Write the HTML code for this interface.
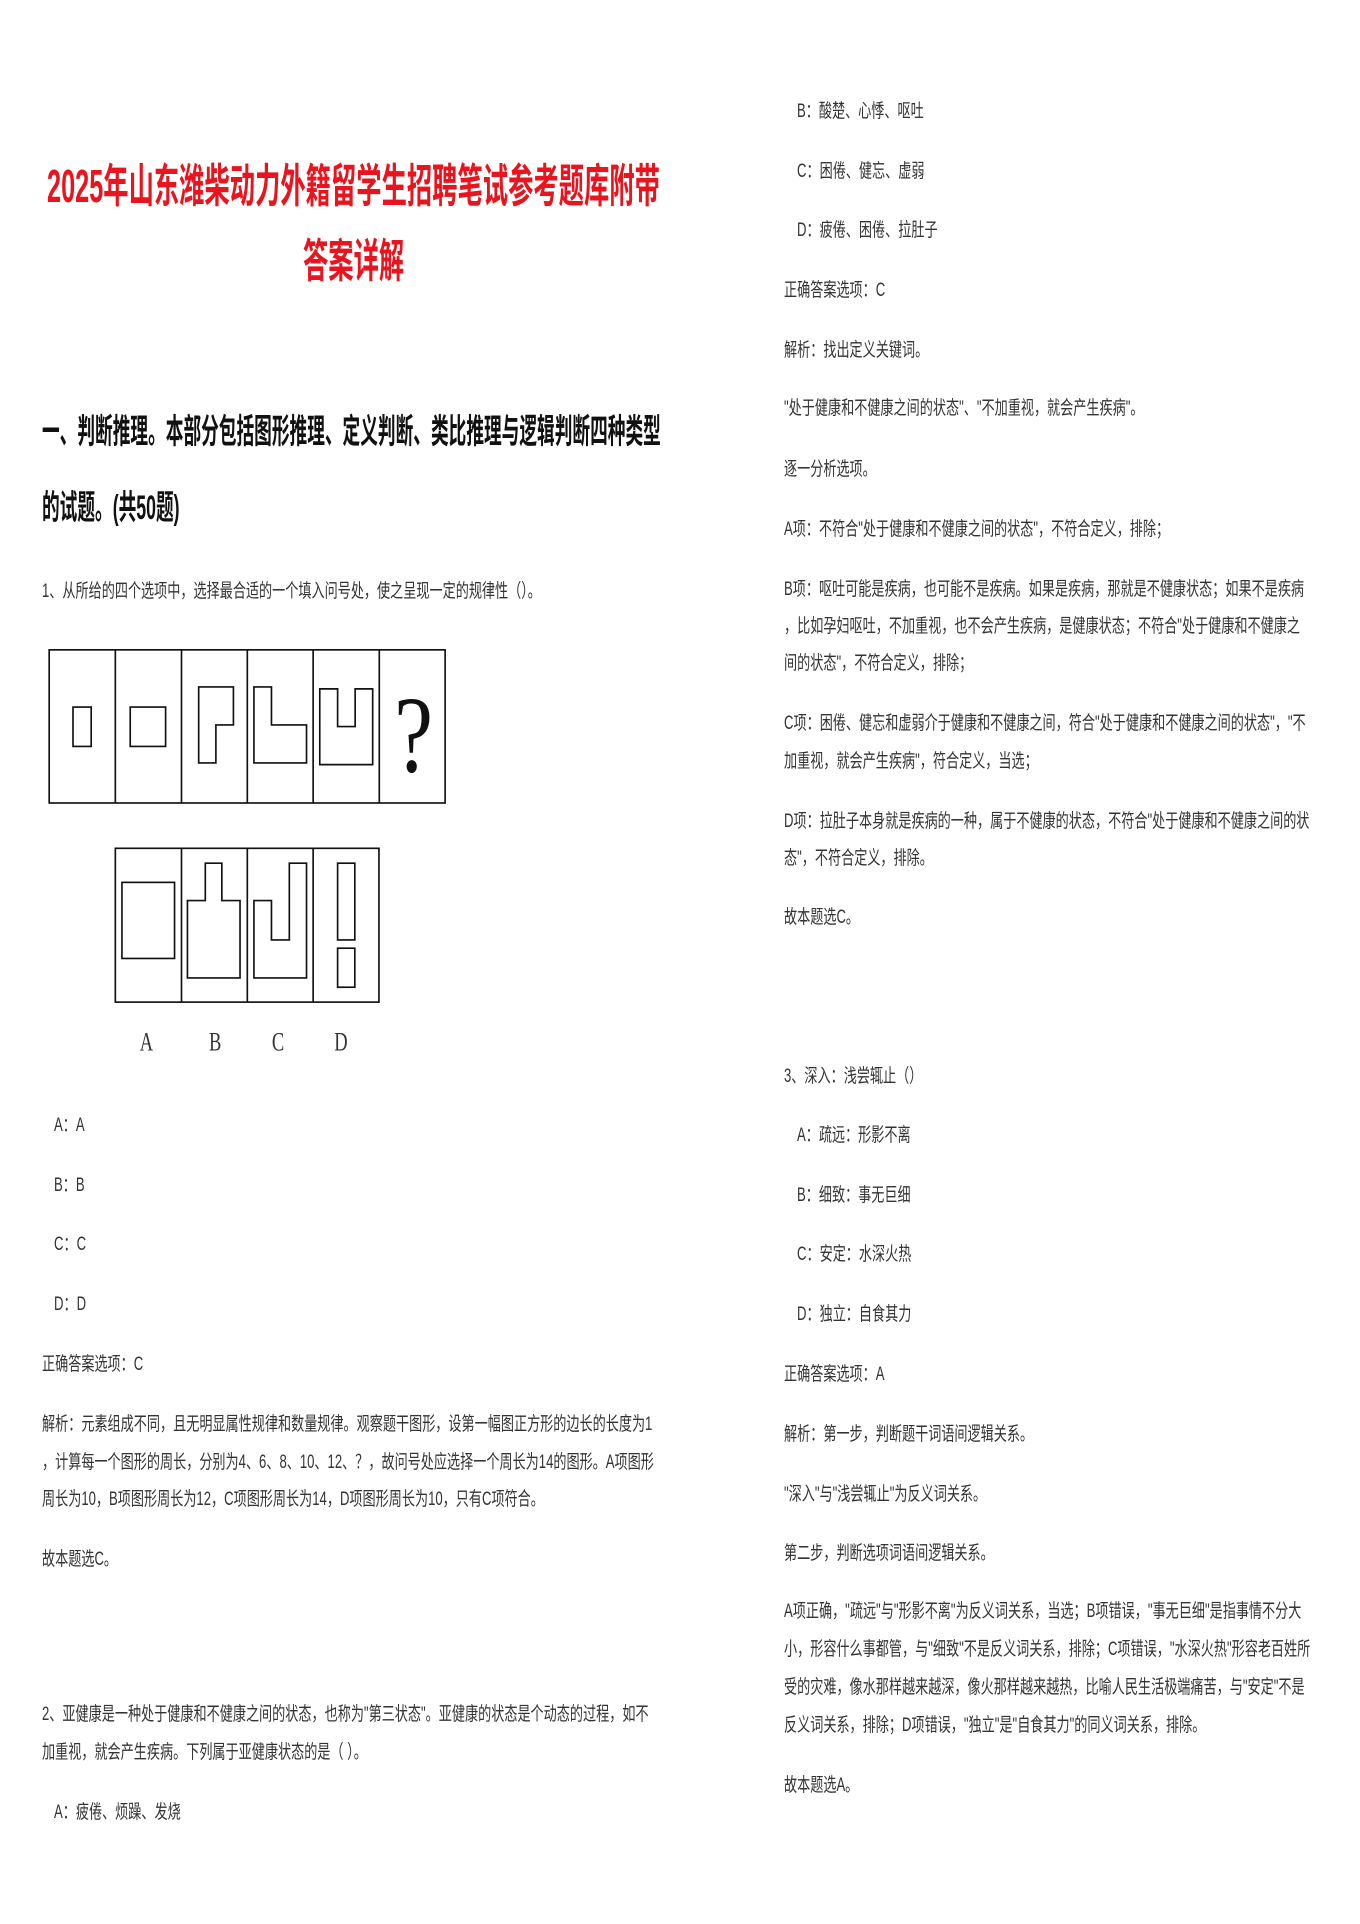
<!DOCTYPE html>
<html><head><meta charset="utf-8">
<style>
html,body{margin:0;padding:0;background:#fff;}
body{width:1360px;height:1924px;position:relative;overflow:hidden;font-family:"Liberation Sans","Noto Sans CJK SC",sans-serif;}
.l{position:absolute;white-space:nowrap;font-size:19px;line-height:24px;height:24px;color:#333;transform:scaleX(0.69);transform-origin:0 50%;margin-top:4px;}
.h{position:absolute;white-space:nowrap;font-size:34px;line-height:40px;font-weight:bold;color:#111;transform:scaleX(0.52);transform-origin:0 50%;}
.t{position:absolute;white-space:nowrap;font-size:46px;line-height:56px;font-weight:bold;color:#e8141e;transform:scaleX(0.55);transform-origin:0 50%;}
</style></head><body>
<div class="t" style="left:47px;top:158px;">2025年山东潍柴动力外籍留学生招聘笔试参考题库附带</div>
<div class="t" style="left:303px;top:233px;">答案详解</div>

<div class="h" style="left:42px;top:412px;">一、判断推理。本部分包括图形推理、定义判断、类比推理与逻辑判断四种类型</div>
<div class="h" style="left:42px;top:488px;">的试题。(共50题)</div>

<div class="l" style="left:42px;top:576px;">1、从所给的四个选项中，选择最合适的一个填入问号处，使之呈现一定的规律性（）。</div>

<svg style="position:absolute;left:30px;top:630px;" width="430" height="430" viewBox="0 0 1300 1300">
<g fill="none" stroke="#111" stroke-width="5">
<rect x="58" y="60" width="1197" height="463"/>
<line x1="258" y1="60" x2="258" y2="523"/><line x1="458" y1="60" x2="458" y2="523"/>
<line x1="657" y1="60" x2="657" y2="523"/><line x1="856" y1="60" x2="856" y2="523"/>
<line x1="1056" y1="60" x2="1056" y2="523"/>
<rect x="130" y="233" width="55" height="119"/>
<rect x="303" y="233" width="107" height="119"/>
<polygon points="510,172 615,172 615,287 562,287 562,402 510,402"/>
<polygon points="677,172 730,172 730,287 836,287 836,402 677,402"/>
<polygon points="876,178 930,178 930,292 983,292 983,178 1036,178 1036,407 876,407"/>
<rect x="258" y="660" width="797" height="465"/>
<line x1="458" y1="660" x2="458" y2="1125"/><line x1="657" y1="660" x2="657" y2="1125"/><line x1="856" y1="660" x2="856" y2="1125"/>
<rect x="278" y="763" width="159" height="230"/>
<polygon points="476,818 530,818 530,705 580,705 580,818 635,818 635,1052 476,1052"/>
<polygon points="677,818 730,818 730,937 784,937 784,705 836,705 836,1052 677,1052"/>
<rect x="930" y="705" width="52" height="232"/>
<rect x="930" y="962" width="52" height="118"/>
</g>
<text x="1160" y="428" font-family="Liberation Serif,serif" font-size="330" text-anchor="middle" fill="#111" transform="translate(1160 0) scale(0.8 1) translate(-1160 0)">?</text>
<g font-family="Liberation Serif,serif" font-size="80" fill="#333" text-anchor="middle">
<text x="352" y="1272" transform="translate(352 0) scale(0.7 1) translate(-352 0)">A</text>
<text x="560" y="1272" transform="translate(560 0) scale(0.7 1) translate(-560 0)">B</text>
<text x="750" y="1272" transform="translate(750 0) scale(0.7 1) translate(-750 0)">C</text>
<text x="940" y="1272" transform="translate(940 0) scale(0.7 1) translate(-940 0)">D</text>
</g>
</svg>

<div class="l" style="left:54px;top:1110px;">A：A</div>
<div class="l" style="left:54px;top:1170px;">B：B</div>
<div class="l" style="left:54px;top:1229px;">C：C</div>
<div class="l" style="left:54px;top:1289px;">D：D</div>
<div class="l" style="left:42px;top:1349px;">正确答案选项：C</div>
<div class="l" style="left:42px;top:1409px;">解析：元素组成不同，且无明显属性规律和数量规律。观察题干图形，设第一幅图正方形的边长的长度为1</div>
<div class="l" style="left:42px;top:1447px;">，计算每一个图形的周长，分别为4、6、8、10、12、？，故问号处应选择一个周长为14的图形。A项图形</div>
<div class="l" style="left:42px;top:1484px;">周长为10，B项图形周长为12，C项图形周长为14，D项图形周长为10，只有C项符合。</div>
<div class="l" style="left:42px;top:1544px;">故本题选C。</div>
<div class="l" style="left:42px;top:1699px;">2、亚健康是一种处于健康和不健康之间的状态，也称为"第三状态"。亚健康的状态是个动态的过程，如不</div>
<div class="l" style="left:42px;top:1737px;">加重视，就会产生疾病。下列属于亚健康状态的是（ ）。</div>
<div class="l" style="left:54px;top:1797px;">A：疲倦、烦躁、发烧</div>

<div class="l" style="left:797px;top:96px;">B：酸楚、心悸、呕吐</div>
<div class="l" style="left:797px;top:156px;">C：困倦、健忘、虚弱</div>
<div class="l" style="left:797px;top:215px;">D：疲倦、困倦、拉肚子</div>
<div class="l" style="left:784px;top:275px;">正确答案选项：C</div>
<div class="l" style="left:784px;top:335px;">解析：找出定义关键词。</div>
<div class="l" style="left:784px;top:393px;">"处于健康和不健康之间的状态"、"不加重视，就会产生疾病"。</div>
<div class="l" style="left:784px;top:454px;">逐一分析选项。</div>
<div class="l" style="left:784px;top:514px;">A项：不符合"处于健康和不健康之间的状态"，不符合定义，排除；</div>
<div class="l" style="left:784px;top:574px;">B项：呕吐可能是疾病，也可能不是疾病。如果是疾病，那就是不健康状态；如果不是疾病</div>
<div class="l" style="left:784px;top:611px;">，比如孕妇呕吐，不加重视，也不会产生疾病，是健康状态；不符合"处于健康和不健康之</div>
<div class="l" style="left:784px;top:648px;">间的状态"，不符合定义，排除；</div>
<div class="l" style="left:784px;top:708px;">C项：困倦、健忘和虚弱介于健康和不健康之间，符合"处于健康和不健康之间的状态"，"不</div>
<div class="l" style="left:784px;top:746px;">加重视，就会产生疾病"，符合定义，当选；</div>
<div class="l" style="left:784px;top:806px;">D项：拉肚子本身就是疾病的一种，属于不健康的状态，不符合"处于健康和不健康之间的状</div>
<div class="l" style="left:784px;top:843px;">态"，不符合定义，排除。</div>
<div class="l" style="left:784px;top:902px;">故本题选C。</div>
<div class="l" style="left:784px;top:1061px;">3、深入：浅尝辄止（）</div>
<div class="l" style="left:797px;top:1120px;">A：疏远：形影不离</div>
<div class="l" style="left:797px;top:1180px;">B：细致：事无巨细</div>
<div class="l" style="left:797px;top:1239px;">C：安定：水深火热</div>
<div class="l" style="left:797px;top:1299px;">D：独立：自食其力</div>
<div class="l" style="left:784px;top:1359px;">正确答案选项：A</div>
<div class="l" style="left:784px;top:1419px;">解析：第一步，判断题干词语间逻辑关系。</div>
<div class="l" style="left:784px;top:1479px;">"深入"与"浅尝辄止"为反义词关系。</div>
<div class="l" style="left:784px;top:1538px;">第二步，判断选项词语间逻辑关系。</div>
<div class="l" style="left:784px;top:1596px;">A项正确，"疏远"与"形影不离"为反义词关系，当选；B项错误，"事无巨细"是指事情不分大</div>
<div class="l" style="left:784px;top:1634px;">小，形容什么事都管，与"细致"不是反义词关系，排除；C项错误，"水深火热"形容老百姓所</div>
<div class="l" style="left:784px;top:1672px;">受的灾难，像水那样越来越深，像火那样越来越热，比喻人民生活极端痛苦，与"安定"不是</div>
<div class="l" style="left:784px;top:1710px;">反义词关系，排除；D项错误，"独立"是"自食其力"的同义词关系，排除。</div>
<div class="l" style="left:784px;top:1770px;">故本题选A。</div>
</body></html>
